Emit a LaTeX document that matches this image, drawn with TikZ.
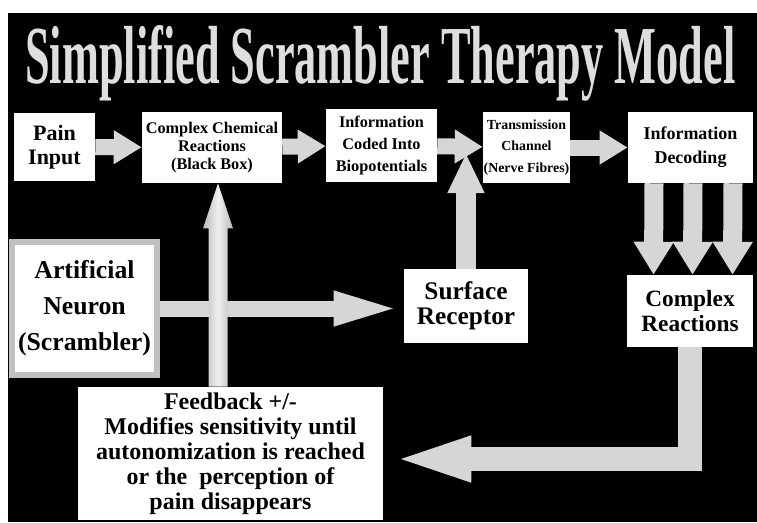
\documentclass[tikz,border=0pt]{standalone}
\usepackage{graphicx}
\usepackage{fontspec}
\setmainfont{Liberation Serif}
\usepackage{xcolor}
\usetikzlibrary{arrows.meta,positioning,calc}

\definecolor{arrowgray}{RGB}{214,214,214}
\definecolor{titlegray}{RGB}{222,222,222}
\definecolor{framegray}{RGB}{192,192,192}

\begin{document}
\begin{tikzpicture}[x=0.75pt,y=-0.75pt,
	box/.style={fill=white,inner sep=0pt,align=center,font=\bfseries},
	flow/.style={draw=arrowgray,line width=12pt,-{Triangle[width=24pt,length=21pt]}},
	neuronflow/.style={draw=arrowgray,line width=12pt,-{Triangle[width=22.5pt,length=52.5pt]}},
	riseflow/.style={draw=arrowgray,line width=15pt,-{Triangle[width=25.5pt,length=30pt]}},
	dropflow/.style={draw=arrowgray,line width=14.25pt,-{Triangle[width=28.5pt,length=24.75pt]}},
	loopflow/.style={draw=arrowgray,line width=18pt,line join=miter,-{Triangle[width=28.5pt,length=66pt]}}]
	\useasboundingbox (0,0) rectangle (757,522);
	\fill[white] (0,0) rectangle (757,522);
	%black panel
	\fill[black] (8,13) rectangle (757,522);

	%title
	\node[anchor=base west,inner sep=0pt,text=titlegray] (title) at (25,83)
		{\resizebox{532.5pt}{43.5pt}{\bfseries Simplified Scrambler Therapy Model}};

	%top row
	\node[box,minimum width=60.75pt,minimum height=51pt,font=\bfseries\fontsize{16.5}{18}\selectfont] (pain) at (54.5,147) {Pain\\Input};
	\node[box,minimum width=105pt,minimum height=53.25pt,font=\bfseries\fontsize{12.2}{13.5}\selectfont] (chem) at (212,147.5) {Complex Chemical\\Reactions\\(Black Box)};
	\node[box,minimum width=83.25pt,minimum height=54.75pt,font=\bfseries\fontsize{12.2}{16.5}\selectfont] (code) at (381.5,145.5) {Information\\Coded Into\\Biopotentials};
	\node[box,minimum width=65.25pt,minimum height=53.25pt,font=\bfseries\fontsize{10.4}{16}\selectfont] (trans) at (526.5,147.5) {Transmission\\Channel\\(Nerve Fibres)};
	\node[box,minimum width=93.75pt,minimum height=53.25pt,font=\bfseries\fontsize{13.5}{18}\selectfont] (dec) at (690.5,147.5) {Information\\Decoding};

	%middle row
	\node[box,draw=framegray,line width=4.5pt,minimum width=108.75pt,minimum height=99.75pt,font=\bfseries\fontsize{19.3}{27}\selectfont] (an) at (84.5,308.5) {Artificial\\Neuron\\(Scrambler)};
	\node[box,minimum width=93pt,minimum height=55.5pt,font=\bfseries\fontsize{19}{19}\selectfont] (sr) at (466,306) {Surface\\Receptor};
	\node[box,minimum width=94.5pt,minimum height=54pt,font=\bfseries\fontsize{17.5}{19}\selectfont] (cr) at (690,311) {Complex\\Reactions};

	%feedback
	\node[box,minimum width=228.75pt,minimum height=99.75pt,font=\bfseries\fontsize{18}{18.75}\selectfont] (fb) at (230.5,453.5)
		{Feedback +/-\\Modifies sensitivity until\\autonomization is reached\\or the\ \ perception of\\pain disappears};

	\coordinate (jn) at (sr.north |- 0,153);
	\coordinate (fbin) at ($(fb.east)+(0,5.5)$);
	\coordinate (fbtop) at ($(fb.north)+(-12.5,0)$);
	\coordinate (fbtip) at (fbtop |- chem.south);

	%arrows
	\draw[flow] (pain) -- (chem);
	\draw[flow] (chem) -- (code);
	\draw[flow] (code) -- (trans);
	\draw[flow] (trans) -- (dec);
	\draw[riseflow] (sr) -- (jn);
	\foreach \dx in {-36.5,2.5,42.5}
		\draw[dropflow] ($(dec.south)+(\dx,0)$) -- ($(cr.north)+(\dx,0)$);
	\draw[loopflow] (cr.south) |- (fbin);
	\draw[neuronflow] (an.east) -- (an.east -| sr.west);

	%shaded feedback arrow
	\shade[left color=gray!55,right color=gray!55,middle color=gray!12]
		($(fbtop)+(-9.5,0)$) -- ($(fbtip)+(-9.5,45)$) -- ($(fbtip)+(-15,45)$) -- (fbtip)
		-- ($(fbtip)+(15,45)$) -- ($(fbtip)+(9.5,45)$) -- ($(fbtop)+(9.5,0)$) -- cycle;
\end{tikzpicture}
\end{document}
